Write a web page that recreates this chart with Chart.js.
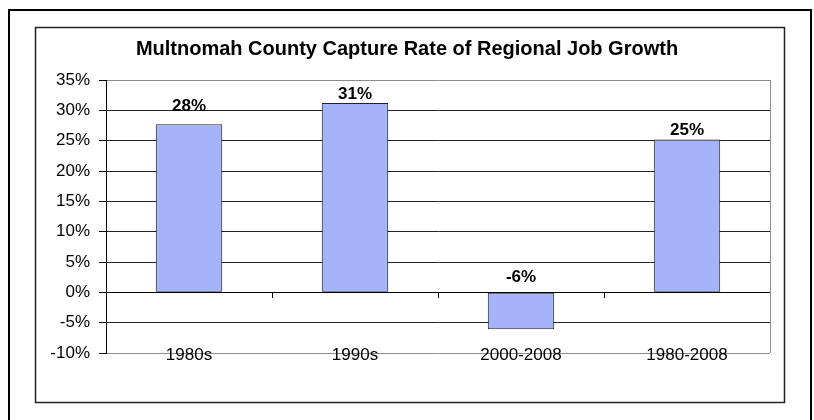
<!DOCTYPE html>
<html>
<head>
<meta charset="utf-8">
<title>Multnomah County Capture Rate of Regional Job Growth</title>
<script src="https://cdn.jsdelivr.net/npm/chart.js@4/dist/chart.umd.min.js"></script>
<style>
    html, body { margin: 0; padding: 0; background: #ffffff; }
    canvas { display: block; }
</style>
</head>
<body>
<canvas id="captureChart" width="814" height="420"></canvas>
<script>
// Données du graphique
const periodes = ['1980s', '1990s', '2000-2008', '1980-2008'];
const tauxCapture = [27.7, 31.2, -6.1, 25.2];
const graduationsY = [-10, -5, 0, 5, 10, 15, 20, 25, 30, 35];

const POLICE = "'Liberation Sans', Arial, sans-serif";

/**
 * Dessine les deux cadres (extérieur et intérieur) et la bordure droite de la zone de tracé
 */
const cadresPlugin = {
    id: 'cadres',
    beforeDraw(chart) {
        const ctx = chart.ctx;
        ctx.save();
        ctx.fillStyle = '#ffffff';
        ctx.fillRect(0, 0, chart.width, chart.height);
        // cadre extérieur
        ctx.strokeStyle = '#000000';
        ctx.lineWidth = 2;
        ctx.strokeRect(9, 10, 802, 430);
        // cadre intérieur
        ctx.strokeStyle = '#222222';
        ctx.lineWidth = 1.5;
        ctx.strokeRect(35.5, 27.5, 749, 375);
        ctx.restore();
    },
    beforeDatasetsDraw(chart) {
        const ctx = chart.ctx;
        const area = chart.chartArea;
        ctx.save();
        ctx.strokeStyle = '#8c8c8c';
        ctx.lineWidth = 1;
        ctx.beginPath();
        ctx.moveTo(Math.round(area.right) + 0.5, area.top);
        ctx.lineTo(Math.round(area.right) + 0.5, area.bottom);
        ctx.stroke();
        ctx.restore();
    }
};

/**
 * Étiquettes de valeurs au-dessus des barres et libellés des catégories
 */
const etiquettesPlugin = {
    id: 'etiquettes',
    afterDatasetsDraw(chart, args, opts) {
        const ctx = chart.ctx;
        const meta = chart.getDatasetMeta(0);
        const echelleX = chart.scales.x;
        const echelleY = chart.scales.y;
        ctx.save();
        ctx.fillStyle = '#000000';
        ctx.textAlign = 'center';
        ctx.textBaseline = 'alphabetic';

        // valeurs
        ctx.font = 'bold 17px ' + POLICE;
        meta.data.forEach((bar, i) => {
            const valeur = tauxCapture[i];
            const haut = Math.min(bar.y, bar.base);
            const decalage = (opts.decalages && opts.decalages[i]) || 0;
            ctx.fillText(Math.round(valeur) + '%', bar.x, haut - 4 + decalage);
        });

        // libellés des catégories, posés sur la ligne du bas
        ctx.font = '17px ' + POLICE;
        const yBas = echelleY.getPixelForValue(echelleY.min);
        periodes.forEach((libelle, i) => {
            ctx.fillText(libelle, echelleX.getPixelForValue(i), yBas + 7);
        });
        ctx.restore();
    }
};

document.addEventListener('DOMContentLoaded', function() {
    if (typeof Chart === 'undefined') {
        console.error('Chart.js n\'est pas chargé.');
        return;
    }

    new Chart(document.getElementById('captureChart'), {
        type: 'bar',
        data: {
            labels: periodes,
            datasets: [{
                data: tauxCapture,
                backgroundColor: '#a4b3fa',
                borderColor: '#222222',
                borderWidth: 1,
                borderSkipped: false,
                barPercentage: 0.4,
                categoryPercentage: 1.0
            }]
        },
        options: {
            responsive: false,
            animation: false,
            layout: {
                padding: 0
            },
            plugins: {
                legend: { display: false },
                tooltip: { enabled: false },
                title: {
                    display: true,
                    text: 'Multnomah County Capture Rate of Regional Job Growth',
                    color: '#000000',
                    font: { family: POLICE, size: 20, weight: 'bold' },
                    padding: { top: 37, bottom: 19 }
                },
                etiquettes: {
                    decalages: [-9, 0, -7, 0]
                }
            },
            scales: {
                x: {
                    position: 'bottom',
                    offset: true,
                    grid: { display: false, drawTicks: false },
                    border: { display: false },
                    ticks: { display: false },
                    afterFit(scale) { scale.height = 67; }
                },
                xZero: {
                    type: 'category',
                    labels: periodes,
                    position: { y: 0 },
                    offset: true,
                    grid: {
                        offset: true,
                        drawOnChartArea: false,
                        drawTicks: true,
                        tickLength: 5,
                        color: '#000000'
                    },
                    border: { display: true, color: '#000000', width: 1 },
                    ticks: { display: false }
                },
                y: {
                    min: -10,
                    max: 35,
                    afterBuildTicks(scale) {
                        scale.ticks = graduationsY.map(v => ({ value: v }));
                    },
                    grid: {
                        color(ctx) {
                            const v = ctx.tick ? ctx.tick.value : null;
                            if (v === 35 || v === -10) return '#8c8c8c';
                            if (v === 0) return '#000000';
                            return '#222222';
                        },
                        tickColor: '#000000',
                        tickLength: 7,
                        lineWidth: 1
                    },
                    border: { display: true, color: '#000000', width: 1 },
                    ticks: {
                        color: '#000000',
                        padding: 9,
                        font: { family: POLICE, size: 17 },
                        callback: function(value) {
                            return value + '%';
                        }
                    },
                    afterFit(scale) { scale.width = 106; }
                },
                // axe vide à droite : réserve la marge sans décentrer le titre
                yMarge: {
                    type: 'linear',
                    position: 'right',
                    min: 0,
                    max: 1,
                    grid: { display: false, drawTicks: false },
                    border: { display: false },
                    ticks: { display: false },
                    afterFit(scale) { scale.width = 44; }
                }
            }
        },
        plugins: [cadresPlugin, etiquettesPlugin]
    });
});
</script>
</body>
</html>
